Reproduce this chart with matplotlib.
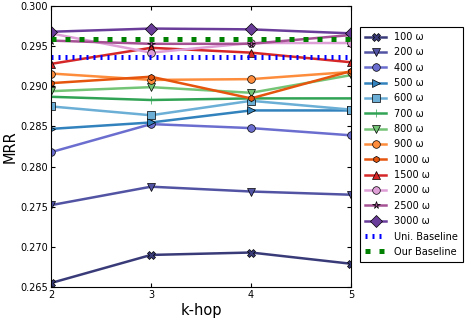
import matplotlib
matplotlib.use("Agg")
import matplotlib.pyplot as plt

# k-hop values and MRR per walk count
k_hop = [2, 3, 4, 5]
labels = ['100 ω', '200 ω', '400 ω', '500 ω', '600 ω', '700 ω', '800 ω',
          '900 ω', '1000 ω', '1500 ω', '2000 ω', '2500 ω', '3000 ω']
mrr = [
    [0.2655, 0.2690, 0.2693, 0.2679],   # 100
    [0.2752, 0.2775, 0.2769, 0.2765],   # 200
    [0.2818, 0.2853, 0.2848, 0.2839],   # 400
    [0.2847, 0.2855, 0.2870, 0.2870],   # 500
    [0.2875, 0.2864, 0.2882, 0.2871],   # 600
    [0.2887, 0.2883, 0.2885, 0.2885],   # 700
    [0.2894, 0.2899, 0.2892, 0.2914],   # 800
    [0.2916, 0.2908, 0.2909, 0.2918],   # 900
    [0.2904, 0.2912, 0.2885, 0.2919],   # 1000
    [0.2928, 0.2948, 0.2942, 0.2930],   # 1500
    [0.2966, 0.2942, 0.2954, 0.2954],   # 2000
    [0.2957, 0.2953, 0.2953, 0.2964],   # 2500
    [0.2968, 0.2972, 0.2971, 0.2966],   # 3000
]
uni_baseline = 0.2937
our_baseline = 0.2959

colors = ['#393b79', '#5254a3', '#6b6ecf', '#3182bd', '#6baed6', '#31a354', '#74c476',
          '#fd8d3c', '#e6550d', '#d62728', '#de9ed6', '#a55194', '#6a3d9a']
markers = ['X', 'v', 'o', '>', 's', '+', 'v', 'o', 'h', '^', 'o', '*', 'D']
msizes = [5.5, 5.5, 5.5, 5.5, 5.5, 6, 5.5, 5.5, 4.5, 5.5, 5.5, 5.5, 6.5]

fig = plt.figure(figsize=(4.66, 3.2), dpi=100)
ax = fig.add_axes([0.1094, 0.103, 0.644, 0.878])

for vals, lab, c, m, ms in zip(mrr, labels, colors, markers, msizes):
    ax.plot(k_hop, vals, color=c, marker=m, markersize=ms, linewidth=1.8,
            markeredgecolor='k' if m != '+' else c, markeredgewidth=0.5, label=lab)

ax.plot(k_hop, [uni_baseline] * len(k_hop), color='blue', linewidth=3.6,
        dashes=(0.4, 1.0), dash_capstyle='butt', label='Uni. Baseline')
ax.plot(k_hop, [our_baseline] * len(k_hop), color='green', linewidth=3.6,
        dashes=(1.0, 1.8), dash_capstyle='butt', label='Our Baseline')

ax.set_xlim(2, 5)
ax.set_ylim(0.265, 0.300)
ax.set_xticks(k_hop)
ax.set_yticks([0.265, 0.270, 0.275, 0.280, 0.285, 0.290, 0.295, 0.300])
ax.set_yticklabels(['%.3f' % v for v in ax.get_yticks()])
ax.tick_params(direction='in', labelsize=7, right=True, top=True, length=3, pad=2)
ax.set_xlabel('k-hop', fontsize=10.5, labelpad=2)
ax.set_ylabel('MRR', fontsize=10.5, labelpad=2)

leg = ax.legend(loc='upper left', bbox_to_anchor=(1.03, 0.925), fontsize=7,
                fancybox=False, edgecolor='k', framealpha=1, borderaxespad=0,
                labelspacing=0.55, handlelength=2.2, borderpad=0.5)
leg.get_frame().set_linewidth(0.8)

fig.savefig('out.png', dpi=100)
